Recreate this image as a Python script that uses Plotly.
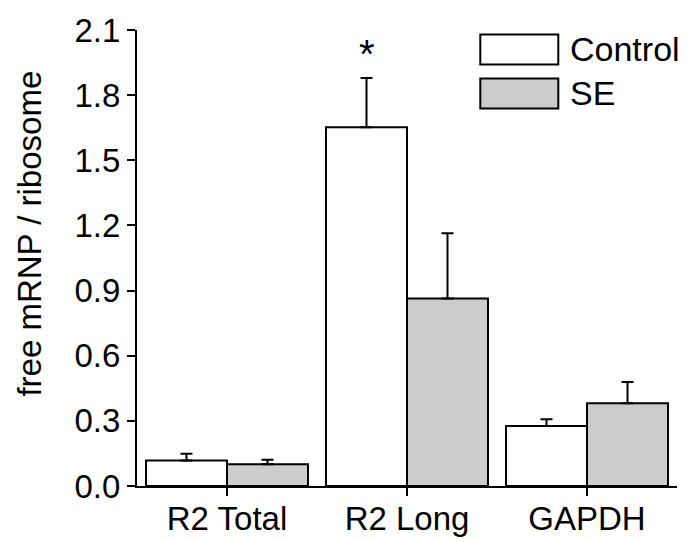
import plotly.graph_objects as go

categories = ["R2 Total", "R2 Long", "GAPDH"]
control_vals = [0.118, 1.652, 0.276]
control_err = [0.031, 0.227, 0.031]
se_vals = [0.100, 0.864, 0.381]
se_err = [0.021, 0.300, 0.098]
y_ticks = [0.0, 0.3, 0.6, 0.9, 1.2, 1.5, 1.8, 2.1]
y_ticktext = ["0.0", "0.3", "0.6", "0.9", "1.2", "1.5", "1.8", "2.1"]
sig_category = "R2 Long"
sig_y = 1.99

FONT = "Liberation Sans, Arial, sans-serif"
W, H = 687, 542
ML, MR, MT, MB = 136.7, 10.3, 29.5, 56

fig = go.Figure()
fig.add_trace(go.Bar(
    x=categories, y=control_vals, name="Control",
    marker=dict(color="white", line=dict(color="black", width=2)),
    error_y=dict(type="data", array=control_err, arrayminus=[0] * 3, symmetric=False,
                 color="black", thickness=2, width=6),
))
fig.add_trace(go.Bar(
    x=categories, y=se_vals, name="SE",
    marker=dict(color="#cccccc", line=dict(color="black", width=2)),
    error_y=dict(type="data", array=se_err, arrayminus=[0] * 3, symmetric=False,
                 color="black", thickness=2, width=6),
))

pw = W - ML - MR
ph = H - MT - MB

def px_x(p):
    return (p - ML) / pw

def px_y(p):
    return (H - MB - p) / ph

shapes = []
annotations = []
# legend boxes
for (name, color, top, bot, ty) in [("Control", "white", 34, 64, 49), ("SE", "#cccccc", 78, 108, 93)]:
    shapes.append(dict(type="rect", xref="paper", yref="paper",
                       x0=px_x(480), x1=px_x(558), y0=px_y(bot), y1=px_y(top),
                       fillcolor=color, line=dict(color="black", width=2)))
    annotations.append(dict(text=name, xref="paper", yref="paper", x=px_x(568), y=px_y(ty),
                            xanchor="left", yanchor="middle", showarrow=False,
                            font=dict(family=FONT, size=34, color="black")))

annotations.append(dict(text="*", x=sig_category, y=sig_y, xref="x", yref="y", xshift=-40.5,
                        xanchor="center", yanchor="middle", showarrow=False,
                        font=dict(family=FONT, size=40, color="black")))
annotations.append(dict(text="free mRNP / ribosome", xref="paper", yref="paper",
                        x=px_x(29), y=px_y(233), textangle=-90, xanchor="center", yanchor="middle",
                        showarrow=False, font=dict(family=FONT, size=33, color="black")))

fig.update_layout(
    width=W, height=H,
    margin=dict(l=ML, r=MR, t=MT, b=MB, pad=0, autoexpand=False),
    paper_bgcolor="white", plot_bgcolor="white",
    barmode="group", bargap=0.1, bargroupgap=0,
    showlegend=False,
    font=dict(family=FONT, size=33, color="black"),
    shapes=shapes, annotations=annotations,
    xaxis=dict(range=[-0.5, 2.5], showline=True, linecolor="black", linewidth=2,
               ticks="outside", ticklen=8, tickwidth=2, tickcolor="black", automargin=False,
               ticklabelstandoff=-6,
               showgrid=False, zeroline=False, tickfont=dict(family=FONT, size=33)),
    yaxis=dict(range=[0, 2.1], tickvals=y_ticks, ticktext=y_ticktext,
               showline=True, linecolor="black", linewidth=2, automargin=False,
               ticks="outside", ticklen=8, tickwidth=2, tickcolor="black",
               showgrid=False, zeroline=False, tickfont=dict(family=FONT, size=33)),
)

fig.write_html("out.html")
